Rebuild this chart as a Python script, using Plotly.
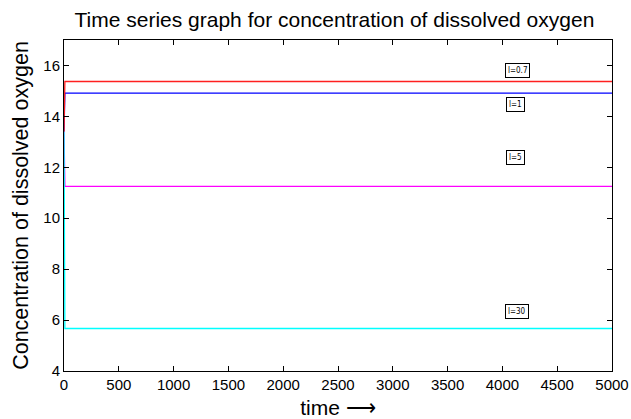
import plotly.graph_objects as go

time = [0, 8, 5000]
do_l07 = [13.4, 15.37, 15.37]
do_l1 = [13.4, 14.91, 14.91]
do_l5 = [13.4, 11.25, 11.25]
do_l30 = [13.4, 5.67, 5.67]

series = [("l=1", do_l1, "#0000ff"), ("l=0.7", do_l07, "#ff2020"),
          ("l=5", do_l5, "#ff00ff"), ("l=30", do_l30, "#00ffff")]

label_names = ["l=0.7", "l=1", "l=5", "l=30"]
label_x = [4140, 4120, 4120, 4130]
label_y = [15.8, 14.45, 12.39, 6.33]

fig = go.Figure()
for name, vals, col in series:
    fig.add_trace(go.Scatter(x=time, y=vals, mode="lines", name=name,
                             line=dict(color=col, width=1.3)))

for t, x, y in zip(label_names, label_x, label_y):
    fig.add_annotation(x=x, y=y, text=t, showarrow=False,
                       font=dict(family="DejaVu Sans Condensed, Liberation Sans", size=8, color="black"),
                       bordercolor="black", borderwidth=1, borderpad=2, bgcolor="white")

axis_common = dict(showgrid=False, zeroline=False, showline=True, linecolor="black",
                   linewidth=1, mirror="ticks", ticks="inside", ticklen=5,
                   tickcolor="black", automargin=False,
                   tickfont=dict(family="Liberation Sans", size=15, color="black"))

fig.update_layout(
    width=631, height=419,
    margin=dict(l=64, r=19, t=40, b=48),
    plot_bgcolor="white", paper_bgcolor="white",
    showlegend=False,
    title=dict(text="Time series graph for concentration of dissolved oxygen",
               x=0.53, xanchor="center", y=0.952, yanchor="middle",
               font=dict(family="Liberation Sans", size=21, color="black")),
    xaxis=dict(range=[0, 5000], tickvals=list(range(0, 5001, 500)),
               title=dict(text="time \u27f6", standoff=8,
                          font=dict(family="Liberation Sans", size=21, color="black")),
               **axis_common),
    yaxis=dict(range=[4, 17], tickvals=[4, 6, 8, 10, 12, 14, 16],
               title=dict(text="Concentration of dissolved oxygen", standoff=8,
                          font=dict(family="Liberation Sans", size=21.5, color="black")),
               **axis_common),
)

fig.write_html("out.html")
